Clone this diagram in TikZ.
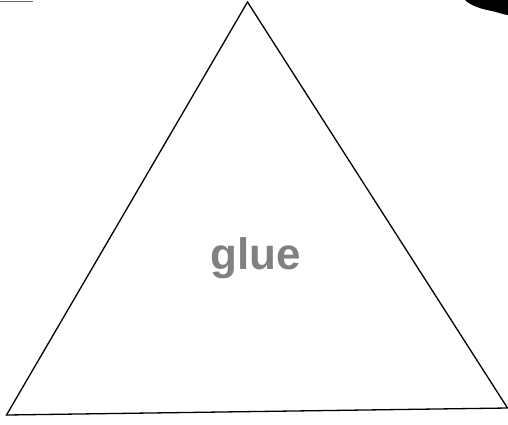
\documentclass[tikz,border=0pt]{standalone}
\usepackage{fontspec}
\setmainfont{Liberation Sans}
\begin{document}
\begin{tikzpicture}[x=1pt,y=-1pt,
  edge/.style={line width=1.3pt,black,line join=miter},
  lbl/.style={font=\fontsize{44}{44}\selectfont\bfseries,text=black!50,inner sep=0pt,anchor=base}]
\useasboundingbox (0,0) rectangle (508,424);
\fill[white] (0,0) rectangle (508,424);
\coordinate (apex) at (247.5,2);
\coordinate (bl) at (6.5,415);
\coordinate (br) at (507.5,408);
\draw[edge] (apex) -- (br) -- (bl) -- cycle;
\node[lbl] (glue) at (255.5,269) {glue};
% scan artifacts
\draw[black!60,line width=1pt] (0,1) -- (33,1);
\fill[black] (465,0) .. controls (470,5) and (480,9) .. (492,11)
  .. controls (500,13) and (505,15) .. (508,15) -- (508,0) -- cycle;
\end{tikzpicture}
\end{document}
